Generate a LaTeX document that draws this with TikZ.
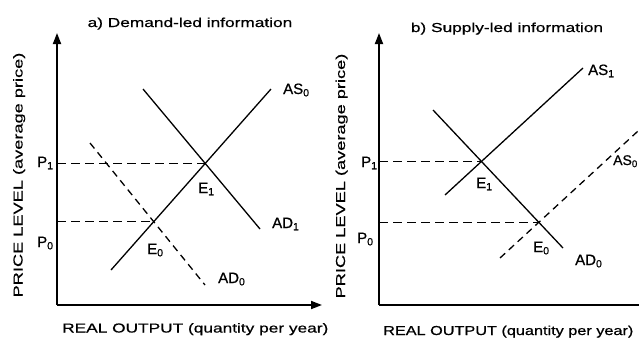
\documentclass[tikz,border=0pt]{standalone}
\usepackage{fontspec}
\setmainfont[FakeBold=0.3]{Liberation Sans}
\newfontfamily\labfont[FakeBold=0.6]{Liberation Sans}
\newfontfamily\widefont[FakeStretch=1.33,FakeBold=0.6]{Liberation Sans}
\newfontfamily\narrowfont[FakeStretch=1.25,FakeBold=0.6]{Liberation Sans}
\newfontfamily\widerfont[FakeStretch=1.4,FakeBold=0.6]{Liberation Sans}
\usetikzlibrary{arrows.meta}
\begin{document}
\begin{tikzpicture}[x=1pt,y=-1pt,
  curve/.style={line width=1.3pt},
  dashcurve/.style={line width=1.3pt,dash pattern=on 7pt off 5pt},
  guide/.style={line width=1.6pt,dash pattern=on 9pt off 5pt},
  axis/.style={line width=1.8pt,-{Triangle[length=11pt,width=8pt]}},
  lab/.style={font=\labfont\fontsize{15}{17}\selectfont,inner sep=0pt,anchor=base west},
  ttl/.style={font=\widefont\fontsize{13}{15}\selectfont,inner sep=0pt},
  ylab/.style={font=\widerfont\fontsize{13}{15}\selectfont,inner sep=0pt,rotate=90,anchor=base}]
\useasboundingbox (0,0) rectangle (639,338);
\clip (0,0) rectangle (639,338);
\fill[white] (0,0) rectangle (639,338);

% ---------- panel a ----------
\coordinate (o1) at (57,305);
\coordinate (yt1) at (57,33);
\coordinate (xt1) at (322,305);
\coordinate (as0s) at (111,270);
\coordinate (as0e) at (271,89);
\coordinate (ad1s) at (143,89);
\coordinate (ad1e) at (260,229);
\coordinate (ad0s) at (90,143);
\coordinate (ad0e) at (205,285);
\coordinate (e1) at (intersection of as0s--as0e and ad1s--ad1e);
\coordinate (e0) at (intersection of as0s--as0e and ad0s--ad0e);
\coordinate (p1) at (o1 |- e1);
\coordinate (p0) at (o1 |- e0);

\draw[axis] (o1) -- (yt1);
\draw[axis] (o1) -- (xt1);
\draw[curve] (as0s) -- (as0e);
\draw[curve] (ad1s) -- (ad1e);
\draw[dashcurve] (ad0s) -- (ad0e);
\draw[guide] (p1) -- (e1);
\draw[guide] (p0) -- (e0);

\node[ttl,anchor=base] (ta) at (190,27) {a) Demand-led information};
\node[ylab] (ya) at (22.5,175) {PRICE LEVEL (average price)};
\node[ttl,anchor=base west] (xa) at (62,332.5) {REAL OUTPUT (quantity per year)};
\node[lab] (las0) at (283,94) {AS\textsubscript{0}};
\node[lab] (lad1) at (272,228) {AD\textsubscript{1}};
\node[lab] (lad0) at (218,283) {AD\textsubscript{0}};
\node[lab] (le1) at (198,193) {E\textsubscript{1}};
\node[lab] (le0) at (147,254) {E\textsubscript{0}};
\node[lab] (lp1) at (37,167) {P\textsubscript{1}};
\node[lab] (lp0) at (37,247) {P\textsubscript{0}};

% ---------- panel b ----------
\coordinate (o2) at (379,305);
\coordinate (yt2) at (379,33);
\coordinate (xt2) at (650,305);
\coordinate (as1s) at (445,195);
\coordinate (as1e) at (583,68);
\coordinate (bd0s) at (433,110);
\coordinate (bd0e) at (563,248);
\coordinate (bs0s) at (500,258);
\coordinate (bs0e) at (650,120);
\coordinate (f1) at (intersection of as1s--as1e and bd0s--bd0e);
\coordinate (f0) at (intersection of bs0s--bs0e and bd0s--bd0e);
\coordinate (q1) at (o2 |- f1);
\coordinate (q0) at (o2 |- f0);

\draw[axis] (o2) -- (yt2);
\draw[axis] (o2) -- (xt2);
\draw[curve] (as1s) -- (as1e);
\draw[curve] (bd0s) -- (bd0e);
\draw[dashcurve] (bs0s) -- (bs0e);
\draw[guide] (q1) -- (f1);
\draw[guide] (q0) -- (f0);

\node[ttl,anchor=base] (tb) at (507,32) {b) Supply-led information};
\node[ylab] (yb) at (345,176) {PRICE LEVEL (average price)};
\node[font=\narrowfont\fontsize{13}{15}\selectfont,inner sep=0pt,anchor=base west] (xb) at (383,335) {REAL OUTPUT (quantity per year)};
\node[lab] (las1) at (588,75) {AS\textsubscript{1}};
\node[lab,font=\labfont\fontsize{14}{16}\selectfont] (lbs0) at (613,165) {AS\textsubscript{0}};
\node[lab] (lbd0) at (575,265) {AD\textsubscript{0}};
\node[lab] (lf1) at (476,188) {E\textsubscript{1}};
\node[lab] (lf0) at (533,252) {E\textsubscript{0}};
\node[lab] (lq1) at (361,167) {P\textsubscript{1}};
\node[lab] (lq0) at (357,243) {P\textsubscript{0}};
\end{tikzpicture}
\end{document}
